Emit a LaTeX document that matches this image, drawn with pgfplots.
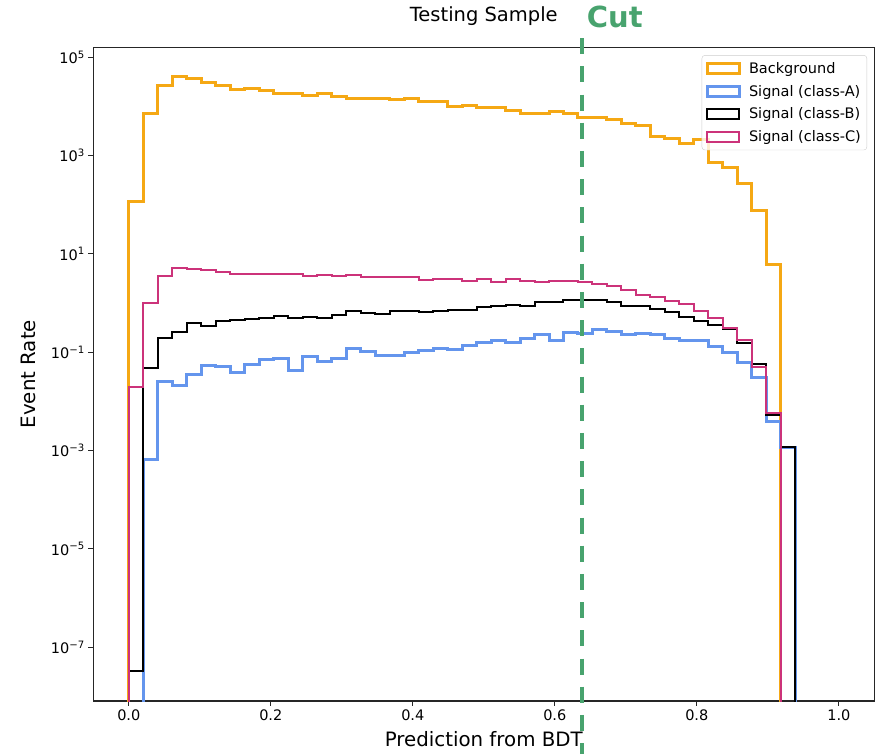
\documentclass[border=0pt]{standalone}
\usepackage{fontspec}
\setmainfont{DejaVu Sans}
\usepackage{pgfplots}
\usepackage{pgfplotstable}
\pgfplotsset{compat=1.18}

\definecolor{bkgcol}{RGB}{245,168,20}
\definecolor{sigAcol}{RGB}{100,149,237}
\definecolor{sigCcol}{RGB}{204,51,122}
\definecolor{cutgreen}{RGB}{72,163,110}

% Histogram contents per bin (49 equal bins on [0,1]); k = bin index.
% The first and last rows (1e-12) close the step outline to the floor.
\pgfplotstableread{
k v
0 1e-12
0 115
1 7260
2 27300
3 39800
4 36200
5 30500
6 26100
7 22300
8 23400
9 21300
10 17950
11 17950
12 16900
13 18540
14 16300
15 14650
16 14650
17 14650
18 13550
19 14200
20 12500
21 12500
22 10200
23 10700
24 9620
25 9620
26 8470
27 7240
28 7240
29 7830
30 7030
31 6030
32 6030
33 5480
34 4550
35 4010
36 2430
37 2250
38 1780
39 2080
40 718
41 579
42 265
43 74.8
44 6.25
45 1e-12
}\bkg

\pgfplotstableread{
k v
1 1e-12
1 0.00065
2 0.0253
3 0.0210
4 0.0357
5 0.0545
6 0.051
7 0.0386
8 0.056
9 0.0708
10 0.0755
11 0.0417
12 0.0815
13 0.0644
14 0.0741
15 0.121
16 0.103
17 0.0881
18 0.0881
19 0.101
20 0.108
21 0.121
22 0.115
23 0.135
24 0.155
25 0.170
26 0.160
27 0.187
28 0.225
29 0.173
30 0.251
31 0.236
32 0.294
33 0.262
34 0.225
35 0.243
36 0.225
37 0.187
38 0.173
39 0.173
40 0.130
41 0.098
42 0.0615
43 0.0305
44 0.0040
45 0.00115
46 1e-12
}\sigA

\pgfplotstableread{
k v
0 1e-12
0 3.35e-8
1 0.0487
2 0.20
3 0.262
4 0.389
5 0.348
6 0.433
7 0.448
8 0.469
9 0.50
10 0.541
11 0.492
12 0.531
13 0.492
14 0.574
15 0.692
16 0.631
17 0.593
18 0.692
19 0.692
20 0.661
21 0.692
22 0.714
23 0.726
24 0.822
25 0.862
26 0.904
27 0.862
28 1.07
29 1.07
30 1.16
31 1.16
32 1.16
33 1.07
34 0.862
35 0.862
36 0.749
37 0.67
38 0.515
39 0.433
40 0.36
41 0.294
42 0.152
43 0.057
44 0.0053
45 0.00117
46 1e-12
}\sigB

\pgfplotstableread{
k v
0 1e-12
0 0.0194
1 1.02
2 3.6
3 5.1
4 4.9
5 4.65
6 4.3
7 3.86
8 3.86
9 3.86
10 3.86
11 3.86
12 3.52
13 3.69
14 3.52
15 3.69
16 3.36
17 3.36
18 3.36
19 3.36
20 2.92
21 3.06
22 3.06
23 2.78
24 3.06
25 2.69
26 3.10
27 2.86
28 2.69
29 2.82
30 2.82
31 2.73
32 2.45
33 2.23
34 1.82
35 1.47
36 1.35
37 1.12
38 0.96
39 0.70
40 0.49
41 0.31
42 0.178
43 0.051
44 0.0059
45 1e-12
}\sigC

\begin{document}
\begin{tikzpicture}
\useasboundingbox (0,0) rectangle (875pt,754pt);
\begin{axis}[
  at={(93.3pt,53pt)}, anchor=south west,
  scale only axis, width=781pt, height=653.7pt,
  ymode=log,
  xmin=-0.05, xmax=1.05, ymin=8.09e-9, ymax=1.597e5,
  xtick={0,0.2,0.4,0.6,0.8,1.0},
  xticklabels={0.0,0.2,0.4,0.6,0.8,1.0},
  ytick={1e-7,1e-5,1e-3,1e-1,1e1,1e3,1e5},
  yticklabels={10\textsuperscript{−7},10\textsuperscript{−5},10\textsuperscript{−3},10\textsuperscript{−1},10\textsuperscript{1},10\textsuperscript{3},10\textsuperscript{5}},
  /pgf/number format/assume math mode=true,
  tick align=outside, tick pos=left,
  major tick length=5pt,
  tick style={black!85, line width=1pt},
  axis line style={black!85, line width=1.1pt},
  ticklabel style={font=\fontsize{14.5}{17}\selectfont},
  title={Testing Sample},
  title style={at={(0.5,1)}, anchor=base, yshift=19.8pt, font=\fontsize{19.5}{23}\selectfont},
  xlabel={Prediction from BDT},
  xlabel style={at={(axis description cs:0.5,0)}, anchor=base, yshift=-45.7pt, font=\fontsize{19.8}{24}\selectfont},
  ylabel={Event Rate},
  ylabel style={at={(axis description cs:-0.0735,0.5)}, rotate=0, anchor=base, font=\fontsize{19.8}{24}\selectfont},
  legend image code/.code={\draw[#1, sharp corners] (0pt,-5pt) rectangle (31.6pt,5pt);},
  legend style={at={(0.9907,0.988)}, anchor=north east,
    draw=black!20, rounded corners=3pt, fill=white, fill opacity=0.8, text opacity=1,
    font=\fontsize{14.5}{17}\selectfont, inner xsep=4pt, inner ysep=5pt,
    row sep=6.2pt, cells={anchor=west},
    /tikz/every odd column/.append style={column sep=6.5pt}},
  every axis plot/.append style={const plot mark left, line join=miter},
]
\addplot[bkgcol, line width=3pt] table[x expr=\thisrow{k}/49, y=v] {\bkg};
\addlegendentry{Background}
\addplot[sigAcol, line width=3pt] table[x expr=\thisrow{k}/49, y=v] {\sigA};
\addlegendentry{Signal (class-A)}
\addplot[black, line width=2pt] table[x expr=\thisrow{k}/49, y=v] {\sigB};
\addlegendentry{Signal (class-B)}
\addplot[sigCcol, line width=2pt] table[x expr=\thisrow{k}/49, y=v] {\sigC};
\addlegendentry{Signal (class-C)}
\coordinate (cutT) at ({axis cs:0.639,1}|-{rel axis cs:0,1.014});
\coordinate (cutB) at ({axis cs:0.639,1}|-{rel axis cs:0,-0.082});
\coordinate (cutL) at ({axis cs:0.645,1}|-{rel axis cs:0,1});
\end{axis}
\draw[cutgreen, line width=4pt, dash pattern=on 16pt off 12.2pt] (cutT) -- (cutB);
\node[anchor=base west, inner sep=0pt, text=cutgreen, font=\bfseries\fontsize{29}{34}\selectfont] at ([yshift=20pt]cutL) {Cut};
\end{tikzpicture}
\end{document}
